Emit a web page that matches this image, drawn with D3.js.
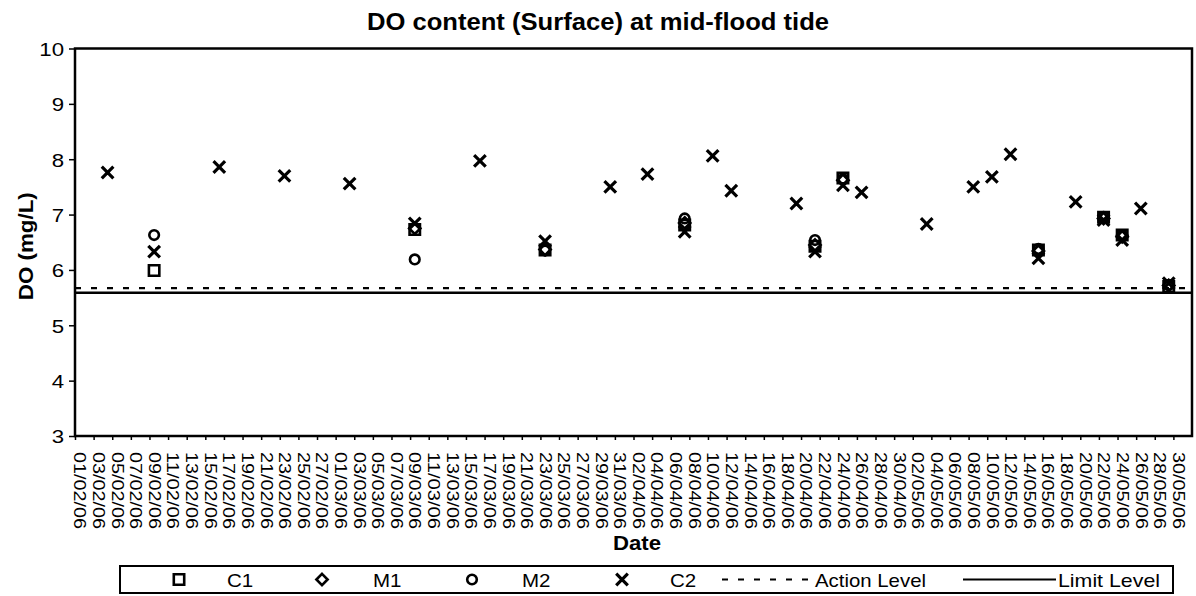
<!DOCTYPE html>
<html><head><meta charset="utf-8">
<script src="https://cdn.jsdelivr.net/npm/d3@7"></script>
<style>
body{margin:0;background:#fff}
svg{display:block}
text{font-family:"Liberation Sans",Arial,Helvetica,sans-serif;fill:#000}
</style>
</head><body>
<svg id="chart" width="1196" height="596"></svg>
<script>
// ---------------- data ----------------
const chartTitle = "DO content (Surface) at mid-flood tide";
const xTitle = "Date";
const yTitle = "DO (mg/L)";
const axisStart = "2006-02-01";
const axisEnd = "2006-06-01";
const yTicks = [3, 4, 5, 6, 7, 8, 9, 10];
const sampleDates = ["2006-02-04","2006-02-09","2006-02-16","2006-02-23","2006-03-02","2006-03-09",
  "2006-03-16","2006-03-23","2006-03-30","2006-04-03","2006-04-07","2006-04-10","2006-04-12",
  "2006-04-19","2006-04-21","2006-04-24","2006-04-26","2006-05-03","2006-05-08","2006-05-10",
  "2006-05-12","2006-05-15","2006-05-19","2006-05-22","2006-05-24","2006-05-26","2006-05-29"];
const c1Values = [null,5.99,null,null,null,6.73,null,6.36,null,null,6.81,null,null,null,6.43,7.66,null,null,null,null,null,6.36,null,6.95,6.63,null,5.70];
const m1Values = [null,null,null,null,null,6.75,null,6.37,null,null,6.85,null,null,null,6.45,7.62,null,null,null,null,null,6.34,null,6.93,6.60,null,5.72];
const m2Values = [null,6.63,null,null,null,6.19,null,6.35,null,null,6.93,null,null,null,6.54,7.64,null,null,null,null,null,6.38,null,6.96,6.62,null,5.73];
const c2Values = [7.76,6.33,7.86,7.70,7.56,6.84,7.97,6.52,7.50,7.73,6.69,8.06,7.43,7.20,6.33,7.53,7.40,6.83,7.50,7.68,8.09,6.21,7.23,6.90,6.54,7.11,5.76];
const seriesNames = ["C1","M1","M2","C2"];
const actionLevel = 5.67;
const limitLevel = 5.59;
const levelNames = ["Action Level","Limit Level"];

// ---------------- chart ----------------
const svg = d3.select("#chart");
const L = 75, R = 1192, T = 48.5, B = 436;
const parse = d3.utcParse("%Y-%m-%d");
const fmt = d3.utcFormat("%d/%m/%y");
const x = d3.scaleUtc().domain([parse(axisStart), parse(axisEnd)]).range([L, R]);
const y = d3.scaleLinear().domain([3, 10]).range([B, T]);
const mid = d => d3.utcHour.offset(d, 12);
const halfDay = x(mid(parse(axisStart))) - L;

function stretch(sel, k) {
  sel.each(function () {
    const len = this.getComputedTextLength();
    d3.select(this).attr("textLength", len * k).attr("lengthAdjust", "spacingAndGlyphs");
  });
}

// title
svg.append("text").attr("x", 598).attr("y", 30).attr("text-anchor", "middle")
  .attr("font-size", 24).attr("font-weight", "bold").text(chartTitle)
  .attr("textLength", 462).attr("lengthAdjust", "spacingAndGlyphs");

// level lines
svg.append("line").attr("x1", L).attr("x2", R).attr("y1", y(actionLevel)).attr("y2", y(actionLevel))
  .attr("stroke", "#000").attr("stroke-width", 2.2).attr("stroke-dasharray", "6,10");
svg.append("line").attr("x1", L).attr("x2", R).attr("y1", y(limitLevel)).attr("y2", y(limitLevel))
  .attr("stroke", "#000").attr("stroke-width", 2.5);

// y axis
const yAxis = svg.append("g").attr("transform", `translate(${L},0)`)
  .call(d3.axisLeft(y).tickValues(yTicks).tickSize(6).tickPadding(5).tickFormat(d3.format("d")));
yAxis.select(".domain").remove();
yAxis.selectAll("line").attr("stroke-width", 1.5);
yAxis.selectAll("text").attr("font-size", 19).attr("font-family", null).attr("dy", "0.36em");
stretch(yAxis.selectAll("text"), 1.17);

// x axis
const labelDates = d3.utcDay.range(parse(axisStart), d3.utcDay.offset(parse(axisEnd), -1), 2);
const xAxis = svg.append("g").attr("transform", `translate(0,${B})`)
  .call(d3.axisBottom(x).tickValues(labelDates.map(mid)).tickSize(4).tickFormat(fmt));
xAxis.select(".domain").remove();
xAxis.selectAll("line").attr("transform", `translate(${-halfDay},0)`).attr("stroke-width", 1.5);
xAxis.selectAll("text").attr("font-size", 16.5).attr("font-family", null)
  .attr("x", 0).attr("y", 0).attr("dy", "0.35em").attr("text-anchor", "start")
  .attr("transform", "translate(0,16) rotate(90)")
  .attr("textLength", 77).attr("lengthAdjust", "spacingAndGlyphs");

// plot frame
svg.append("rect").attr("x", L).attr("y", T).attr("width", R - L).attr("height", B - T)
  .attr("fill", "none").attr("stroke", "#000").attr("stroke-width", 2.5);

// axis titles
svg.append("text").attr("x", 637).attr("y", 550).attr("text-anchor", "middle")
  .attr("font-size", 20).attr("font-weight", "bold").text(xTitle)
  .attr("textLength", 48).attr("lengthAdjust", "spacingAndGlyphs");
svg.append("text").attr("transform", `translate(33,${(T + B) / 2 + 4}) rotate(-90)`)
  .attr("text-anchor", "middle").attr("font-size", 20).attr("font-weight", "bold").text(yTitle)
  .attr("textLength", 108).attr("lengthAdjust", "spacingAndGlyphs");

// markers
const markerPath = {
  C1: "M-5.2,-5.2H5.2V5.2H-5.2Z",
  M1: "M0,-5.6L5.6,0L0,5.6L-5.6,0Z",
  M2: null,
  C2: "M-5.8,-5.8L5.8,5.8M5.8,-5.8L-5.8,5.8"
};
function drawMarker(g, name) {
  if (name === "M2") {
    g.append("circle").attr("r", 4.8).attr("fill", "none").attr("stroke", "#000").attr("stroke-width", 2.6);
  } else {
    g.append("path").attr("d", markerPath[name]).attr("fill", "none").attr("stroke", "#000")
      .attr("stroke-width", name === "C2" ? 3.2 : 2.6);
  }
}
const seriesValues = [c1Values, m1Values, m2Values, c2Values];
seriesNames.forEach((name, si) => {
  const pts = sampleDates.map((d, i) => ({ date: mid(parse(d)), v: seriesValues[si][i] }))
    .filter(p => p.v !== null);
  svg.append("g").selectAll("g").data(pts).join("g")
    .attr("transform", p => `translate(${x(p.date)},${y(p.v)})`)
    .each(function () { drawMarker(d3.select(this), name); });
});

// legend
const lg = svg.append("g");
lg.append("rect").attr("x", 120).attr("y", 566).attr("width", 1053).attr("height", 27)
  .attr("fill", "#fff").attr("stroke", "#000").attr("stroke-width", 2);
const ly = 579.5;
const markerX = [179, 322, 472, 622];
const labelX = [227, 373, 522, 670];
seriesNames.forEach((name, i) => {
  const g = lg.append("g").attr("transform", `translate(${markerX[i]},${ly})`);
  drawMarker(g, name);
  lg.append("text").attr("x", labelX[i]).attr("y", ly + 7).attr("font-size", 19).text(name);
});
lg.append("line").attr("x1", 722).attr("x2", 812).attr("y1", ly).attr("y2", ly)
  .attr("stroke", "#000").attr("stroke-width", 2.2).attr("stroke-dasharray", "6,10");
lg.append("text").attr("x", 815).attr("y", ly + 7).attr("font-size", 19).text(levelNames[0])
  .attr("textLength", 111).attr("lengthAdjust", "spacingAndGlyphs");
lg.append("line").attr("x1", 963).attr("x2", 1056).attr("y1", ly).attr("y2", ly)
  .attr("stroke", "#000").attr("stroke-width", 2);
lg.append("text").attr("x", 1058).attr("y", ly + 7).attr("font-size", 19).text(levelNames[1])
  .attr("textLength", 102).attr("lengthAdjust", "spacingAndGlyphs");
stretch(lg.selectAll("text").filter(function(){ return !this.getAttribute("textLength"); }), 1.08);
</script>
</body></html>
